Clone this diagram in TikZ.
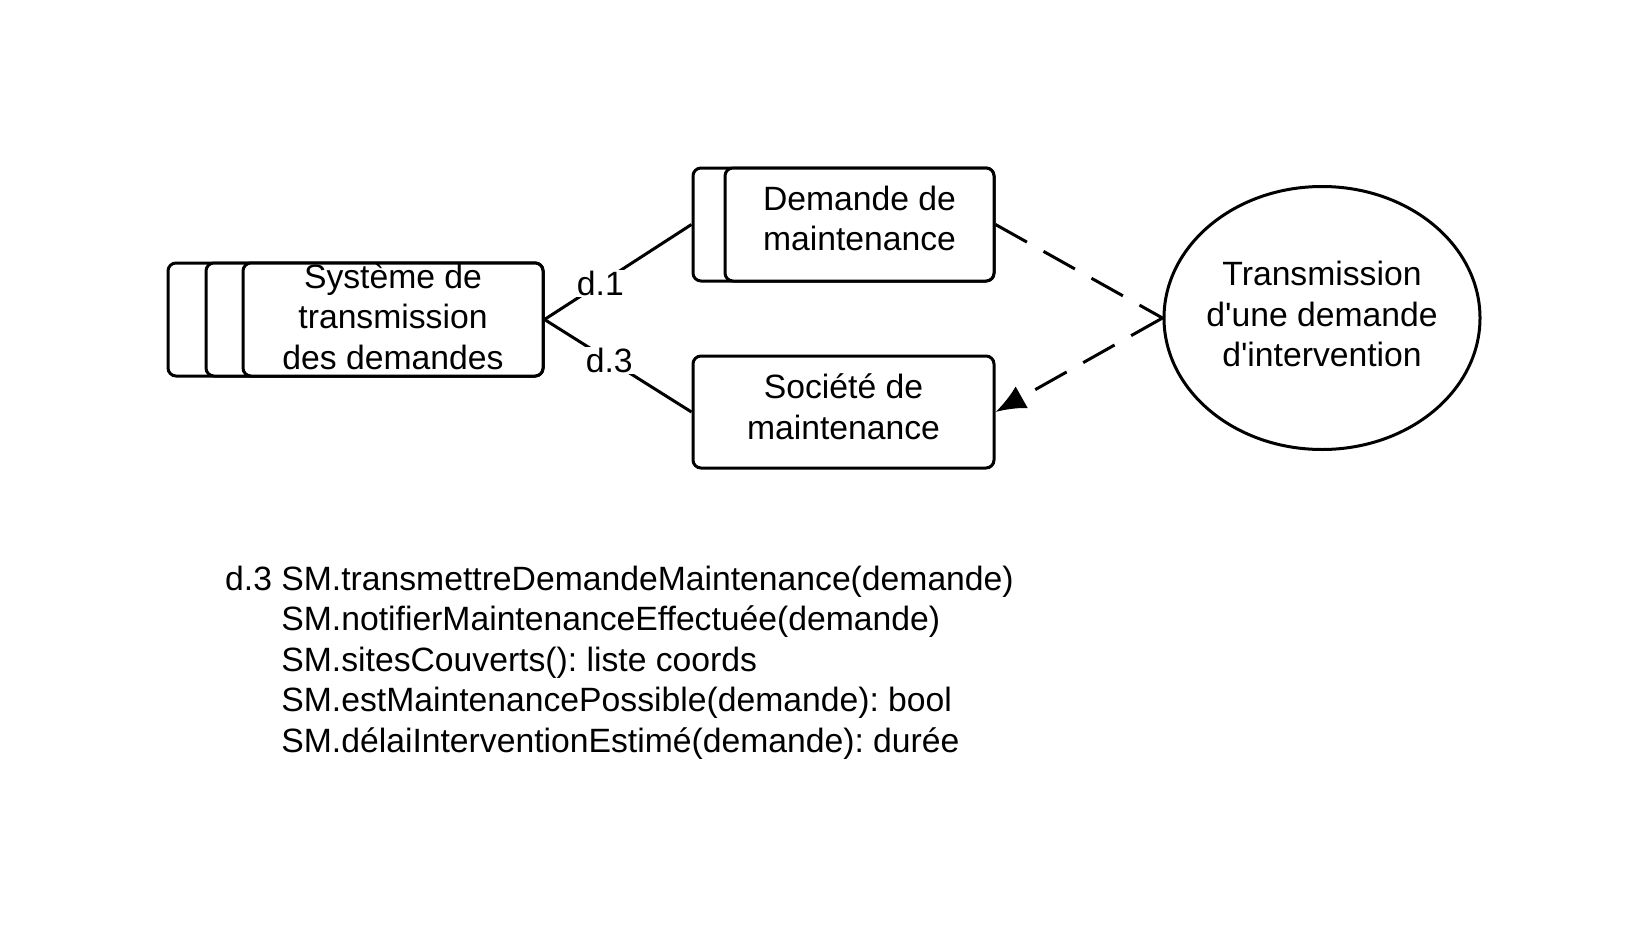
\documentclass[tikz,border=0pt]{standalone}
\usepackage{fontspec}
\setmainfont{Liberation Sans}[Ligatures=TeXOff]
\usetikzlibrary{arrows.meta,shapes.geometric}
\frenchspacing
\begin{document}
\begin{tikzpicture}[x=1pt,y=-1pt,
  txt/.style={font=\fontsize{33.7}{40.5}\selectfont},
  obj/.style={draw,line width=3pt,rounded corners=8pt,fill=white,inner sep=0pt},
  inner/.style={inner sep=0pt,align=center,txt},
  link/.style={line width=3pt},
  dep/.style={line width=3pt,dash pattern=on 36pt off 19pt},
  lbl/.style={fill=white,inner sep=1pt,txt}]
\useasboundingbox (0,0) rectangle (1651,934);
% Systeme stack
\node[obj,minimum width=375pt,minimum height=113pt] (sysb2) at (355.5,319.5) {};
\node[obj,minimum width=337pt,minimum height=113pt] (sysb1) at (374.5,319.5) {};
\node[obj,minimum width=300pt,minimum height=113pt] (sys) at (393,319.5) {};
\node[inner] (systxt) at ([yshift=3pt]sys.center) {Système de\\transmission\\des demandes};
% Demande stack
\node[obj,minimum width=301pt,minimum height=113pt] (demb) at (843.5,224.5) {};
\node[obj,minimum width=269pt,minimum height=113pt] (dem) at (859.5,224.5) {};
\node[inner] (demtxt) at ([yshift=6pt]dem.center) {Demande de\\maintenance};
% Societe
\node[obj,minimum width=301pt,minimum height=112pt] (soc) at (843.5,412) {};
\node[inner] (soctxt) at ([yshift=5pt]soc.center) {Société de\\maintenance};
% Ellipse
\node[draw,line width=3pt,ellipse,minimum width=316pt,minimum height=263pt,inner sep=0pt] (uc) at (1322,318) {};
\node[inner] (uctxt) at ([yshift=4pt]uc.center) {Transmission\\d'une demande\\d'intervention};
% links
\draw[link] (sys.east) -- (demb.west) node[lbl,pos=0.38] {d.1};
\draw[link] (sys.east) -- (soc.west) node[lbl,pos=0.44] {d.3};
\draw[dep] (dem.east) -- (uc.west);
\draw[dep,-{Latex[length=30pt,width=25pt]}] (uc.west) -- (soc.east);
% operations
\node[anchor=base west,inner sep=0pt,txt] (ops) at (225,590) {\begin{tabular}[t]{@{}l@{\ }l@{}}
d.3 & SM.transmettreDemandeMaintenance(demande)\\
 & SM.notifierMaintenanceEffectuée(demande)\\
 & SM.sitesCouverts(): liste coords\\
 & SM.estMaintenancePossible(demande): bool\\
 & SM.délaiInterventionEstimé(demande): durée
\end{tabular}};
\end{tikzpicture}
\end{document}
